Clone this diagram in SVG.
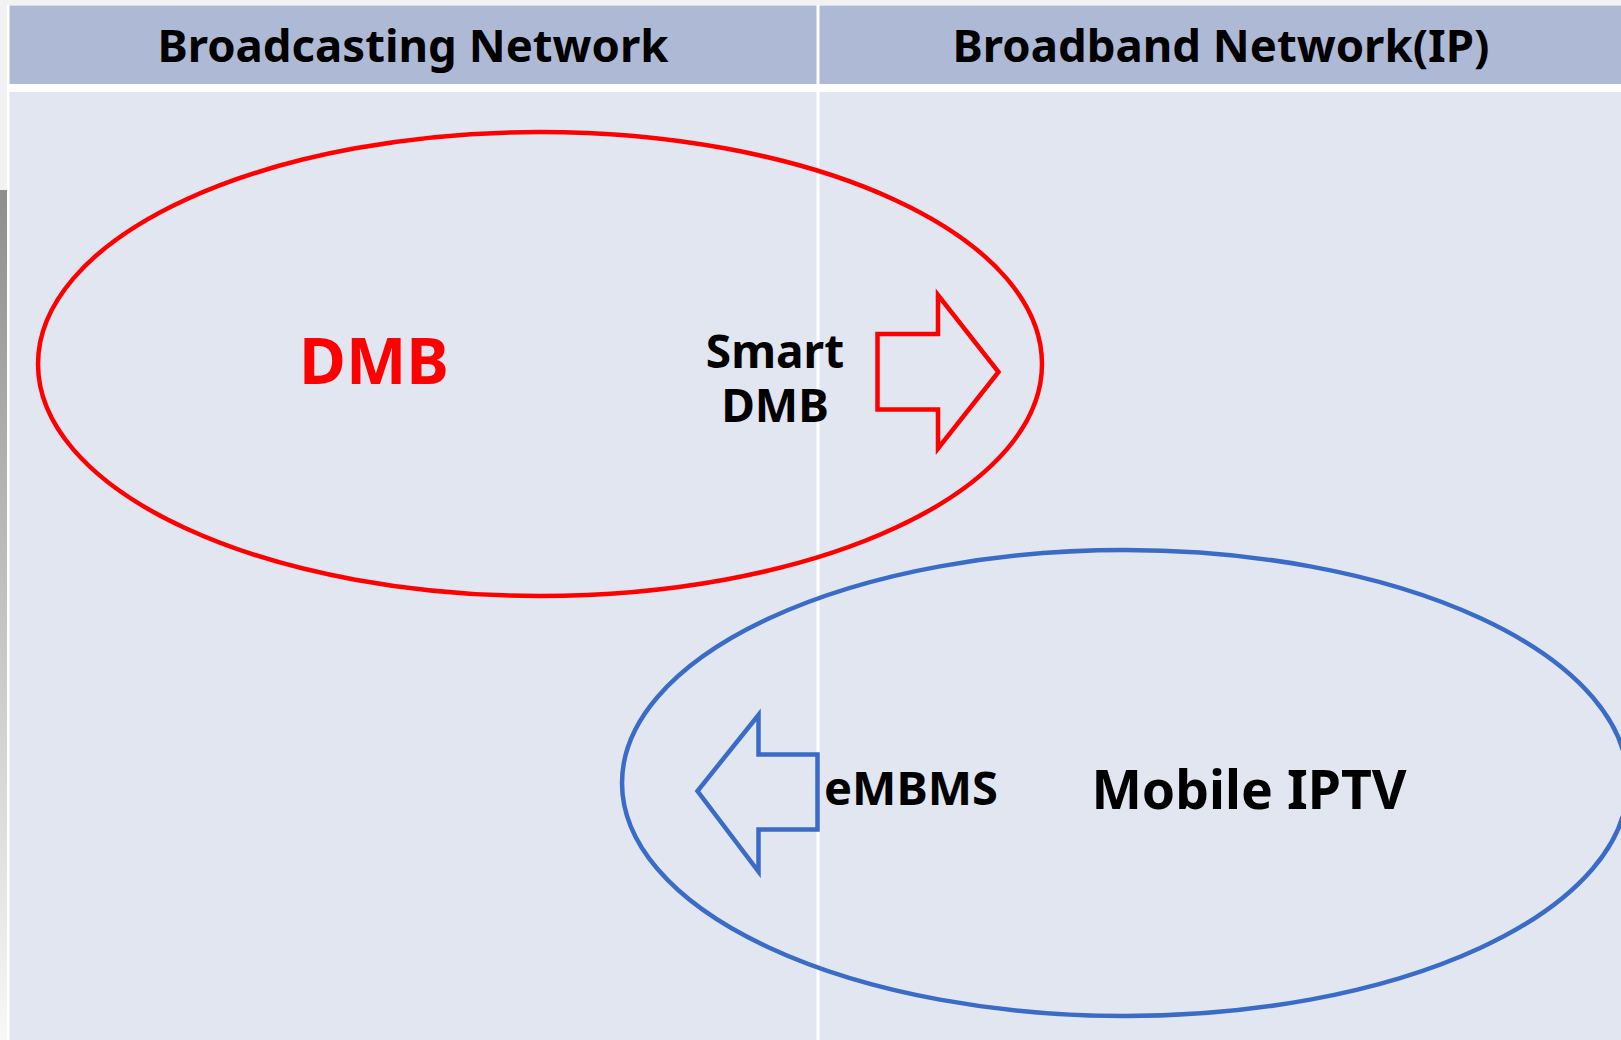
<svg xmlns="http://www.w3.org/2000/svg" width="1621" height="1040" viewBox="0 0 1621 1040">
  <defs>
    <linearGradient id="edge" x1="0" y1="0" x2="0" y2="1">
      <stop offset="0" stop-color="#8e8e8e"/>
      <stop offset="1" stop-color="#f8f8f8"/>
    </linearGradient>
    <style>
      .hdr { fill: #aeb9d6; }
      .body { fill: #e1e6f0; }
      .ht { font-family: "Noto Sans", "Open Sans", sans-serif; font-weight: bold; font-size: 45.5px; fill: #000; text-anchor: middle; }
      .lbl { font-family: "Noto Sans", "Open Sans", sans-serif; font-weight: bold; fill: #000; text-anchor: middle; }
      .red { fill: none; stroke: #ff0000; stroke-width: 4.5; }
      .blue { fill: none; stroke: #3a6bc6; stroke-width: 4.5; }
    </style>
  </defs>

  <rect x="0" y="0" width="1621" height="1040" fill="#ffffff"/>
  <rect x="0" y="0" width="1621" height="5" fill="#f2f2f2"/>
  <rect x="0" y="0" width="7" height="190" fill="#f2f2f2"/>
  <rect x="0" y="190" width="7" height="850" fill="url(#edge)"/>

  <g id="table">
    <rect class="hdr" x="9.5" y="5.5" width="807" height="78.5"/>
    <rect class="hdr" x="819.5" y="5.5" width="802" height="78.5"/>
    <rect class="body" x="9.5" y="92" width="807" height="948"/>
    <rect class="body" x="819.5" y="92" width="802" height="948"/>
    <text class="ht" x="413" y="62">Broadcasting Network</text>
    <text class="ht" x="1221" y="62">Broadband Network(IP)</text>
  </g>

  <g id="dmb">
    <ellipse class="red" cx="540" cy="364" rx="502" ry="232"/>
    <text class="lbl" x="374" y="384" font-size="64" style="fill:#ff0000">DMB</text>
  </g>

  <g id="smart-dmb">
    <text class="lbl" font-size="46"><tspan x="775" y="368">Smart</tspan><tspan x="775" y="422">DMB</tspan></text>
  </g>

  <g id="mobile-iptv">
    <ellipse class="blue" cx="1125" cy="783" rx="503" ry="233"/>
    <text class="lbl" x="1249" y="809" font-size="53.5">Mobile IPTV</text>
  </g>

  <g id="embms">
    <text class="lbl" x="911" y="805" font-size="47">eMBMS</text>
  </g>

  <g id="connectors">
    <polygon class="red" points="877.5,334 938,334 938,295 998.5,372 938,448.5 938,409.5 877.5,409.5"/>
    <polygon class="blue" points="817.5,754.5 758.5,754.5 758.5,715 697.5,791 758.5,871.5 758.5,829.5 817.5,829.5"/>
  </g>
</svg>
